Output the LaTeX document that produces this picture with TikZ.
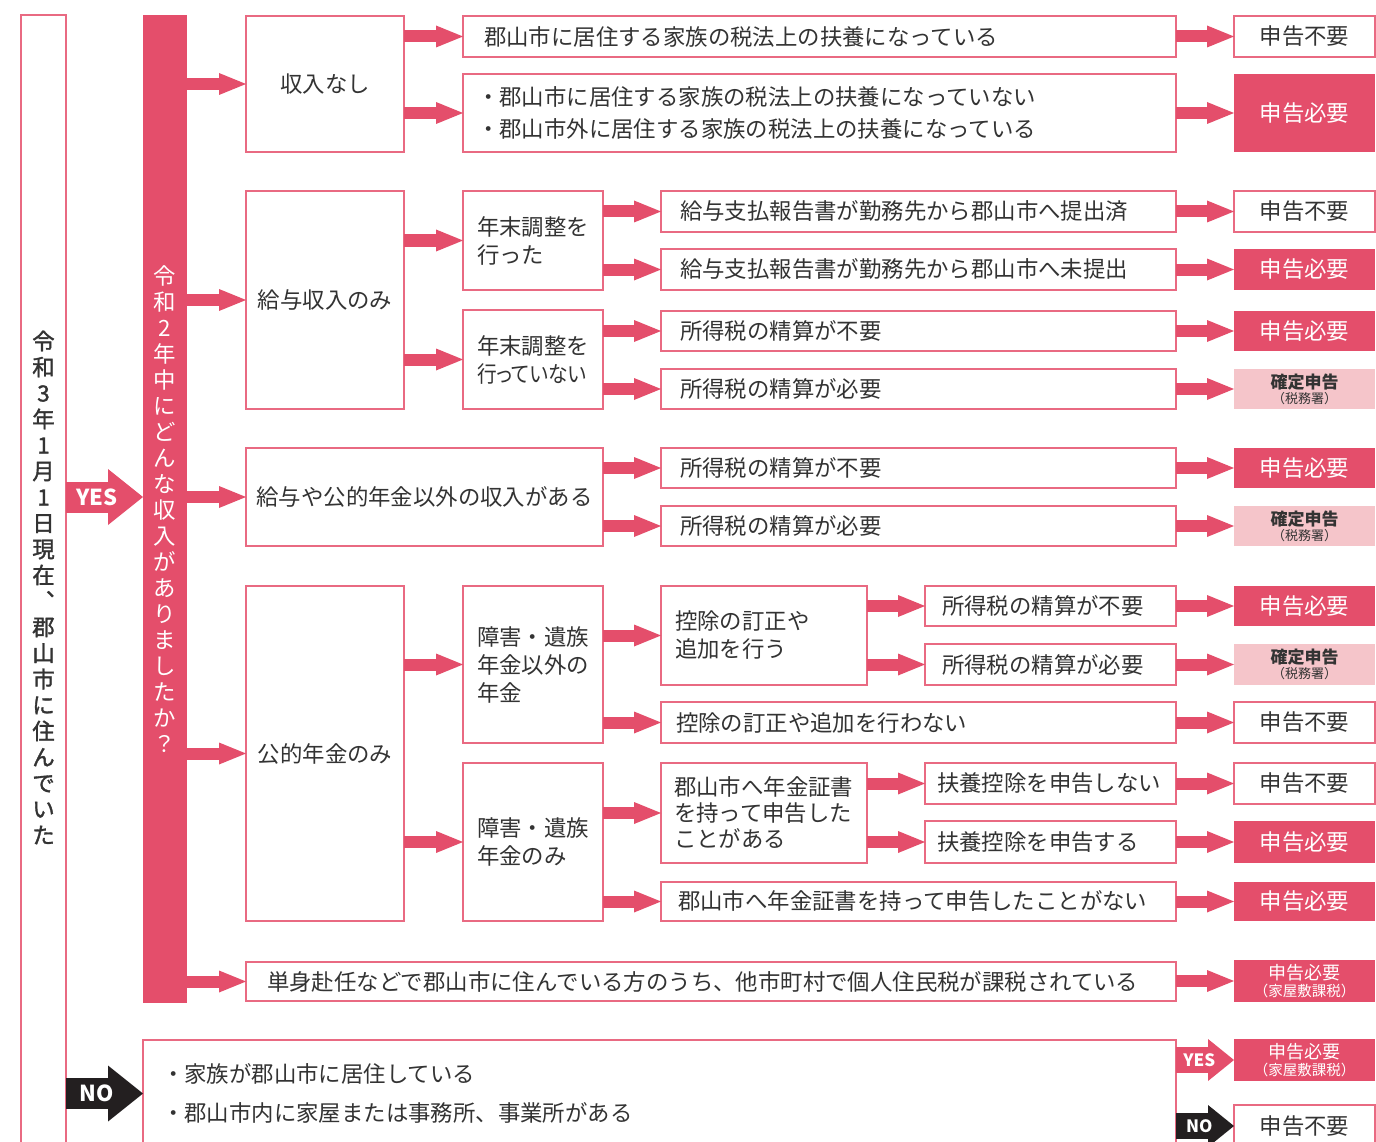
\documentclass[tikz,border=0pt]{standalone}
\usepackage{fontspec}
\setmainfont{Noto Sans CJK JP}
\newfontfamily\jpp{Noto Sans CJK JP}[RawFeature=+palt]
\newfontfamily\jpm{Noto Sans CJK JP}[FakeBold=1.5]
\usetikzlibrary{arrows.meta}
\definecolor{rosered}{RGB}{228,78,107}
\definecolor{roseline}{RGB}{233,106,130}
\definecolor{roselight}{RGB}{245,197,202}
\definecolor{ink}{RGB}{51,51,51}
\definecolor{noblack}{RGB}{35,31,32}
\newcommand{\zeimu}{{\bfseries\fontsize{17}{15}\selectfont 確定申告}\\（税務署）}
\newcommand{\kaoku}{{\fontsize{18}{17}\selectfont 申告必要}\\（家屋敷課税）}

\begin{document}
\begin{tikzpicture}[x=1pt, y=-1pt, font=\fontsize{22.4}{28}\selectfont,
  box/.style={draw=roseline, line width=1.5pt, fill=white, text=ink, anchor=north west, inner ysep=0pt, outer sep=0pt},
  cbx/.style 2 args={box, minimum width=#1pt, minimum height=#2pt, inner xsep=0pt, align=center},
  mbx/.style 2 args={box, minimum width=#1pt, minimum height=#2pt, inner xsep=0pt, align=left},
  bx/.style n args={3}{box, minimum width=#1pt, minimum height=#2pt, inner xsep=#3pt, text width=#1pt-2*#3pt, align=left},
  res/.style={anchor=north west, minimum width=141pt, minimum height=41pt, inner sep=0pt, outer sep=0pt, align=center},
  fuyo/.style={res, draw=roseline, line width=1.5pt, fill=white, text=ink},
  hitsuyo/.style={res, fill=rosered, text=white},
  kakutei/.style={res, fill=roselight, text=ink, font=\fontsize{13}{15}\selectfont},
  kaokubox/.style={res, fill=rosered, text=white, font=\fontsize{14.5}{17}\selectfont},
  fat/.style={draw=rosered, line width=12pt, -{Triangle[width=22pt, length=27pt, line width=0pt]}},
  bigfat/.style={line width=31pt, -{Triangle[width=56pt, length=35pt, line width=0pt]}},
  smallfat/.style={line width=26pt, -{Triangle[width=42pt, length=26pt, line width=0pt]}},
  yesno/.style={text=white, font=\bfseries\fontsize{22}{22}\selectfont, inner sep=0pt},
  ]
  \useasboundingbox (0,0) rectangle (1376,1142);
  \fill[white] (0,0) rectangle (1376,1142);
  \clip (0,0) rectangle (1376,1142);

  % 左の枠と赤い帯
  \node[draw=roseline, line width=1.5pt, anchor=north west, minimum width=45pt, minimum height=1145pt, inner sep=0pt, outer sep=0pt, align=center, text=ink, font=\jpm\fontsize{22.4}{26}\selectfont] (left) at (21,15) {令\\和\\3\\年\\1\\月\\1\\日\\現\\在\\︑\\郡\\山\\市\\に\\住\\ん\\で\\い\\た};
  \node[fill=rosered, anchor=north west, minimum width=44pt, minimum height=988pt, inner sep=0pt, outer sep=0pt, align=center, text=white, font=\fontsize{22.4}{26}\selectfont] (bar) at (143,15) {令\\和\\2\\年\\中\\に\\ど\\ん\\な\\収\\入\\が\\あ\\り\\ま\\し\\た\\か\\？};

  % 収入の種類
  \node[cbx={158}{136}] (none) at (246,16) {収入なし};
  \node[cbx={158}{218}] (wage) at (246,191) {給与収入のみ};
  \node[cbx={357}{98}] (other) at (246,448) {給与や公的年金以外の収入がある};
  \node[cbx={158}{335}] (pension) at (246,586) {公的年金のみ};
  \node[bx={930}{39}{21}] (single) at (246,962) {単身赴任などで郡山市に住んでいる方のうち、他市町村で個人住民税が課税されている};

  % 2列目
  \node[bx={713}{41}{21}] (famin) at (463,16) {郡山市に居住する家族の税法上の扶養になっている};
  \node[bx={713}{78}{14}, font=\fontsize{22.4}{32}\selectfont] (famout) at (463,74) {・郡山市に居住する家族の税法上の扶養になっていない\\・郡山市外に居住する家族の税法上の扶養になっている};
  \node[mbx={140}{99}] (adj) at (463,191) {年末調整を\\行った};
  \node[mbx={140}{99}] (noadj) at (463,310) {年末調整を\\\scalebox{0.88}[1]{\jpp 行っていない}};
  \node[mbx={140}{157}] (pnot) at (463,586) {障害・遺族\\年金以外の\\年金};
  \node[mbx={140}{158}] (ponly) at (463,763) {障害・遺族\\年金のみ};

  % 3列目
  \node[bx={515}{41}{19}] (sent) at (661,191) {給与支払報告書が勤務先から郡山市へ提出済};
  \node[bx={515}{41}{19}] (unsent) at (661,249) {給与支払報告書が勤務先から郡山市へ未提出};
  \node[bx={515}{40}{19}] (wfree) at (661,311) {所得税の精算が不要};
  \node[bx={515}{40}{19}] (wneed) at (661,369) {所得税の精算が必要};
  \node[bx={515}{40}{19}] (ofree) at (661,448) {所得税の精算が不要};
  \node[bx={515}{40}{19}] (oneed) at (661,506) {所得税の精算が必要};
  \node[bx={206}{99}{14}] (fix) at (661,586) {控除の訂正や\\追加を行う};
  \node[bx={515}{41}{15}] (nofix) at (661,702) {控除の訂正や追加を行わない};
  \node[bx={206}{100}{13}, font=\fontsize{22.4}{26}\selectfont] (cert) at (661,763) {郡山市へ年金証書\\を持って申告した\\ことがある};
  \node[bx={515}{39}{17}] (nocert) at (661,882) {郡山市へ年金証書を持って申告したことがない};

  % 4列目
  \node[bx={251}{40}{17}] (ffree) at (925,586) {所得税の精算が不要};
  \node[bx={251}{41}{17}] (fneed) at (925,644) {所得税の精算が必要};
  \node[bx={251}{41}{12}] (nodep) at (925,763) {扶養控除を申告しない};
  \node[bx={251}{42}{12}] (dep) at (925,821) {扶養控除を申告する};

  % 住んでいなかった場合
  \node[bx={1033}{107}{19}, font=\fontsize{22.4}{39}\selectfont] (nobox) at (143,1040) {・家族が郡山市に居住している\\・郡山市内に家屋または事務所、事業所がある};

  % 結果
  \node[fuyo] (r1) at (1234,16) {申告不要};
  \node[hitsuyo, minimum height=78pt] (r2) at (1234,74) {申告必要};
  \node[fuyo] (r3) at (1234,191) {申告不要};
  \node[hitsuyo] (r4) at (1234,249) {申告必要};
  \node[hitsuyo, minimum height=40pt] (r5) at (1234,311) {申告必要};
  \node[kakutei, minimum height=40pt] (r6) at (1234,369) {\zeimu};
  \node[hitsuyo, minimum height=40pt] (r7) at (1234,448) {申告必要};
  \node[kakutei, minimum height=40pt] (r8) at (1234,506) {\zeimu};
  \node[hitsuyo, minimum height=40pt] (r9) at (1234,586) {申告必要};
  \node[kakutei] (r10) at (1234,644) {\zeimu};
  \node[fuyo] (r11) at (1234,702) {申告不要};
  \node[fuyo] (r12) at (1234,763) {申告不要};
  \node[hitsuyo, minimum height=42pt] (r13) at (1234,821) {申告必要};
  \node[hitsuyo, minimum height=39pt] (r14) at (1234,882) {申告必要};
  \node[kaokubox, minimum height=42pt] (r15) at (1234,960) {\kaoku};
  \node[kaokubox, minimum height=42pt] (r16) at (1234,1039) {\kaoku};
  \node[fuyo, minimum height=42pt] (r17) at (1234,1105) {申告不要};

  % YES / NO
  \draw[bigfat, draw=rosered] (left.east |- other.west) -- node[pos=0.4, yesno] (yes) {YES} (bar.west |- other.west);
  \draw[bigfat, draw=noblack] (left.east |- nobox.west) -- node[pos=0.4, yesno] (no) {NO} (nobox.west);
  \draw[smallfat, draw=rosered] (nobox.east |- r16.west) -- node[pos=0.4, yesno, font=\bfseries\fontsize{17}{17}\selectfont] (yes2) {YES} (r16.west);
  \draw[smallfat, draw=noblack] (nobox.east |- r17.west) -- node[pos=0.4, yesno, font=\bfseries\fontsize{17}{17}\selectfont] (no2) {NO} (r17.west);

  % 赤い帯から
  \draw[fat] (bar.east |- none.west) -- (none.west);
  \draw[fat] (bar.east |- wage.west) -- (wage.west);
  \draw[fat] (bar.east |- other.west) -- (other.west);
  \draw[fat] (bar.east |- pension.west) -- (pension.west);
  \draw[fat] (bar.east |- single.west) -- (single.west);

  % 枝分かれ
  \draw[fat] (none.east |- famin.west) -- (famin.west);
  \draw[fat] (none.east |- famout.west) -- (famout.west);
  \draw[fat] (wage.east |- adj.west) -- (adj.west);
  \draw[fat] (wage.east |- noadj.west) -- (noadj.west);
  \draw[fat] (adj.east |- sent.west) -- (sent.west);
  \draw[fat] (adj.east |- unsent.west) -- (unsent.west);
  \draw[fat] (noadj.east |- wfree.west) -- (wfree.west);
  \draw[fat] (noadj.east |- wneed.west) -- (wneed.west);
  \draw[fat] (other.east |- ofree.west) -- (ofree.west);
  \draw[fat] (other.east |- oneed.west) -- (oneed.west);
  \draw[fat] (pension.east |- pnot.west) -- (pnot.west);
  \draw[fat] (pension.east |- ponly.west) -- (ponly.west);
  \draw[fat] (pnot.east |- fix.west) -- (fix.west);
  \draw[fat] (pnot.east |- nofix.west) -- (nofix.west);
  \draw[fat] (fix.east |- ffree.west) -- (ffree.west);
  \draw[fat] (fix.east |- fneed.west) -- (fneed.west);
  \draw[fat] (ponly.east |- cert.west) -- (cert.west);
  \draw[fat] (ponly.east |- nocert.west) -- (nocert.west);
  \draw[fat] (cert.east |- nodep.west) -- (nodep.west);
  \draw[fat] (cert.east |- dep.west) -- (dep.west);

  % 結果へ
  \draw[fat] (famin.east |- r1.west) -- (r1.west);
  \draw[fat] (famout.east |- r2.west) -- (r2.west);
  \draw[fat] (sent.east |- r3.west) -- (r3.west);
  \draw[fat] (unsent.east |- r4.west) -- (r4.west);
  \draw[fat] (wfree.east |- r5.west) -- (r5.west);
  \draw[fat] (wneed.east |- r6.west) -- (r6.west);
  \draw[fat] (ofree.east |- r7.west) -- (r7.west);
  \draw[fat] (oneed.east |- r8.west) -- (r8.west);
  \draw[fat] (ffree.east |- r9.west) -- (r9.west);
  \draw[fat] (fneed.east |- r10.west) -- (r10.west);
  \draw[fat] (nofix.east |- r11.west) -- (r11.west);
  \draw[fat] (nodep.east |- r12.west) -- (r12.west);
  \draw[fat] (dep.east |- r13.west) -- (r13.west);
  \draw[fat] (nocert.east |- r14.west) -- (r14.west);
  \draw[fat] (single.east |- r15.west) -- (r15.west);
\end{tikzpicture}
\end{document}
